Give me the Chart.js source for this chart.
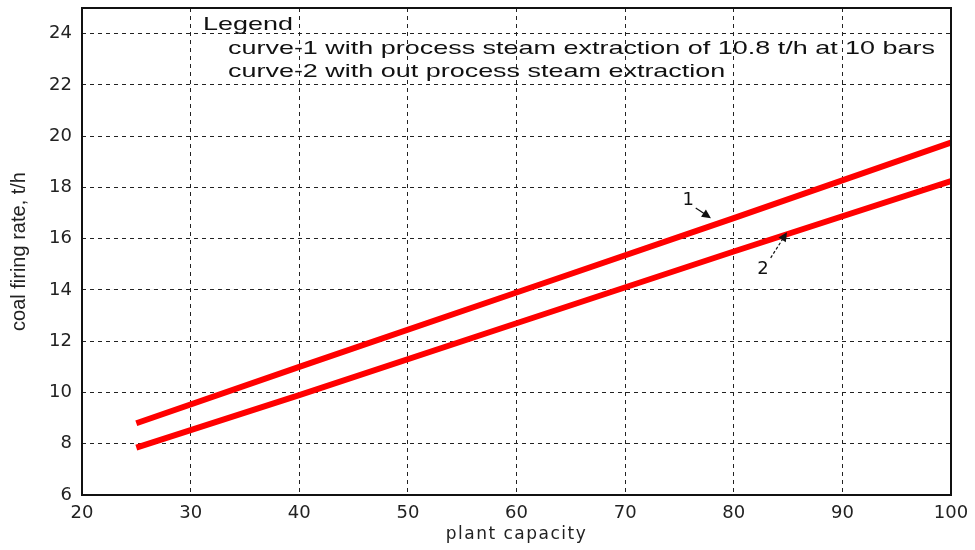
<!DOCTYPE html>
<html>
<head>
<meta charset="utf-8">
<script src="https://cdn.jsdelivr.net/npm/chart.js@4"></script>
<style>
  html, body { margin: 0; padding: 0; background: #fff; }
  #wrap { width: 975px; height: 550px; }
</style>
</head>
<body>
<div id="wrap"><canvas id="coalChart" width="975" height="550"></canvas></div>
<script>
// values
const capacity = [25, 40, 60, 80, 100];
const curve1 = [8.8, 11.0, 13.9, 16.8, 19.75];
const curve2 = [7.85, 9.9, 12.7, 15.5, 18.25];

const legendLines = [
  "Legend",
  "curve-1 with process steam extraction of 10.8 t/h at 10 bars",
  "curve-2 with out process steam extraction"
];

// curve labels: text position, arrow tail, arrow tip (data units)
const curveLabels = [
  { text: "1", at: [75.8, 17.5], tail: [76.5, 17.2], tip: [77.9, 16.8], dashed: false },
  { text: "2", at: [82.7, 14.8], tail: [83.4, 15.25], tip: [84.9, 16.25], dashed: true }
];

const textPlugin = {
  id: "textPlugin",
  afterDraw(chart) {
    const ctx = chart.ctx;
    const area = chart.chartArea;
    const xs = chart.scales.x, ys = chart.scales.y;

    // frame
    ctx.save();
    ctx.strokeStyle = "#111";
    ctx.lineWidth = 2;
    ctx.strokeRect(area.left, area.top, area.right - area.left, area.bottom - area.top);

    // legend text block
    ctx.fillStyle = "#111";
    ctx.textBaseline = "middle";
    ctx.font = "19px 'Liberation Sans'";
    const w = ctx.measureText(legendLines[1]).width;
    const sx = 707 / w;
    const rows = [[121, 17], [146, 41], [146, 64]];
    legendLines.forEach((line, i) => {
      ctx.save();
      ctx.translate(area.left + rows[i][0], area.top + rows[i][1]);
      ctx.scale(sx, 1);
      ctx.fillText(line, 0, 0);
      ctx.restore();
    });

    // x axis title, letter spaced
    ctx.save();
    ctx.font = "17px 'DejaVu Sans'";
    ctx.letterSpacing = "1.5px";
    ctx.textAlign = "center";
    ctx.fillStyle = "#222";
    ctx.fillText("plant capacity", (area.left + area.right) / 2, 535);
    ctx.restore();

    // curve numbers and arrows
    curveLabels.forEach((c) => {
      ctx.font = "18px 'DejaVu Sans'";
      ctx.textAlign = "center";
      ctx.fillText(c.text, xs.getPixelForValue(c.at[0]), ys.getPixelForValue(c.at[1]));
      const x0 = xs.getPixelForValue(c.tail[0]), y0 = ys.getPixelForValue(c.tail[1]);
      const x1 = xs.getPixelForValue(c.tip[0]), y1 = ys.getPixelForValue(c.tip[1]);
      const ang = Math.atan2(y1 - y0, x1 - x0);
      ctx.lineWidth = 1.2;
      ctx.setLineDash(c.dashed ? [3, 2] : []);
      ctx.beginPath();
      ctx.moveTo(x0, y0);
      ctx.lineTo(x1 - 6 * Math.cos(ang), y1 - 6 * Math.sin(ang));
      ctx.stroke();
      ctx.setLineDash([]);
      ctx.beginPath();
      ctx.moveTo(x1, y1);
      ctx.lineTo(x1 - 10 * Math.cos(ang - 0.45), y1 - 10 * Math.sin(ang - 0.45));
      ctx.lineTo(x1 - 10 * Math.cos(ang + 0.45), y1 - 10 * Math.sin(ang + 0.45));
      ctx.closePath();
      ctx.fill();
    });
    ctx.restore();
  }
};

new Chart(document.getElementById("coalChart"), {
  type: "line",
  data: {
    labels: capacity,
    datasets: [
      { label: "curve-1", data: capacity.map((x, i) => ({ x: x, y: curve1[i] })) },
      { label: "curve-2", data: capacity.map((x, i) => ({ x: x, y: curve2[i] })) }
    ]
  },
  options: {
    responsive: false,
    animation: false,
    layout: { padding: { left: 0, right: 24, top: 8, bottom: 0 } },
    elements: {
      line: { borderColor: "#ff0000", borderWidth: 6, tension: 0, borderCapStyle: "butt" },
      point: { radius: 0 }
    },
    plugins: { legend: { display: false }, tooltip: { enabled: false } },
    scales: {
      x: {
        type: "linear",
        min: 20,
        max: 100,
        ticks: { stepSize: 10, padding: 8, color: "#222", font: { family: "DejaVu Sans", size: 18 } },
        grid: { color: "#222", lineWidth: 1, drawTicks: false },
        border: { display: false, dash: [4, 4] },
        title: { display: false },
        afterFit(scale) { scale.height = 55; scale.paddingLeft = 0; scale.paddingRight = 0; }
      },
      y: {
        min: 6,
        max: 25,
        ticks: { stepSize: 2, includeBounds: false, padding: 10, color: "#222",
                 font: { family: "DejaVu Sans", size: 18 } },
        grid: { color: "#222", lineWidth: 1, drawTicks: false },
        border: { display: false, dash: [4, 4] },
        title: { display: true, text: "coal firing rate, t/h", color: "#222",
                 font: { family: "Liberation Sans Narrow, Liberation Sans", size: 20 }, padding: { top: 7, bottom: 0 } },
        afterFit(scale) { scale.width = 82; scale.paddingTop = 0; scale.paddingBottom = 0; }
      }
    }
  },
  plugins: [textPlugin]
});
</script>
</body>
</html>
